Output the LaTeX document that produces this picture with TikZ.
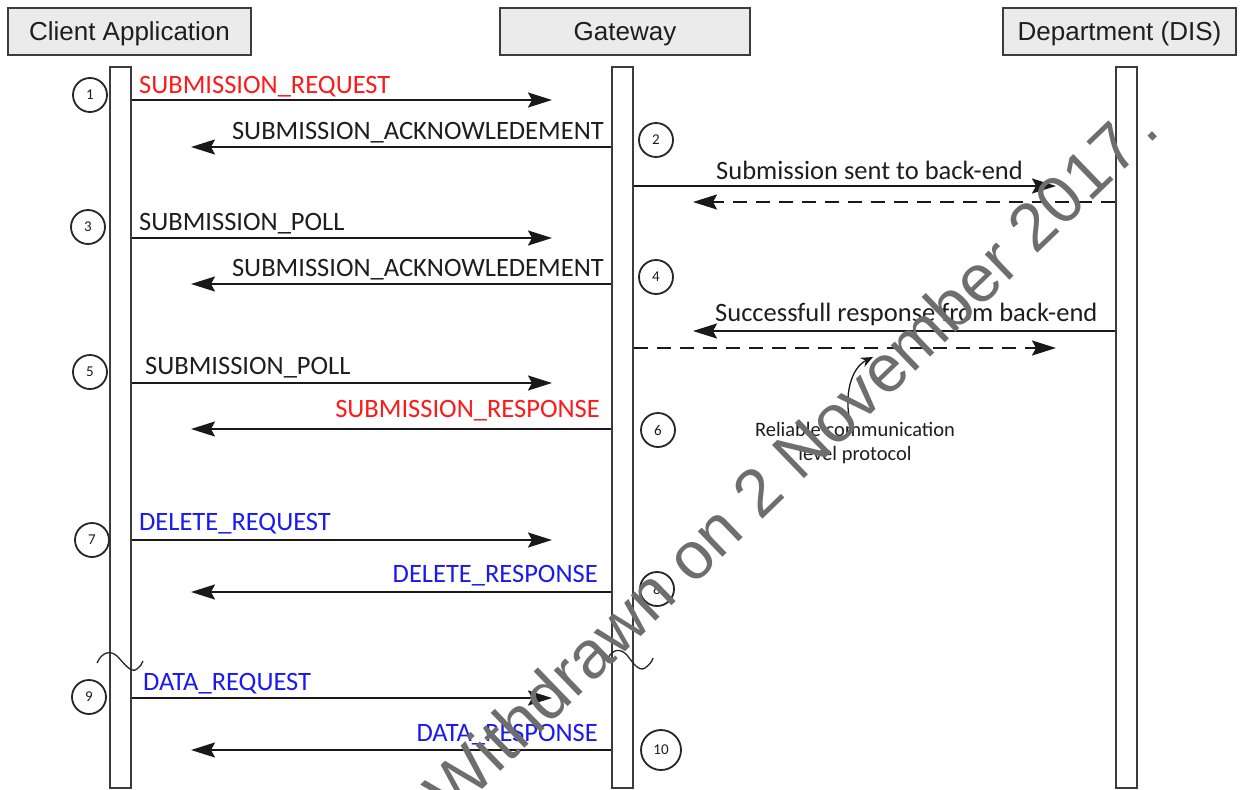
\documentclass[tikz,border=0pt]{standalone}
\usepackage{fontspec}
\setmainfont{Carlito}
\newfontfamily\arial{Liberation Sans}
\usetikzlibrary{arrows.meta}
\definecolor{lbl}{HTML}{1E1E1E}
\definecolor{myred}{HTML}{FF1A1A}
\definecolor{myblue}{HTML}{1A1AF0}
\definecolor{wm}{HTML}{6E6E6E}
\definecolor{edge}{HTML}{3C3C3C}
\definecolor{hdrfill}{HTML}{EBEBEB}
\begin{document}
\begin{tikzpicture}[x=1pt,y=-1pt,
  hdr/.style={draw=edge, line width=2.5pt, fill=hdrfill, minimum width=#1, minimum height=47pt, inner sep=0pt, text height=19pt, text depth=2pt, font=\arial\fontsize{26}{30}\selectfont, text=lbl},
  life/.style={draw=edge, line width=2pt, fill=white, minimum width=21pt, minimum height=721pt, inner sep=0pt},
  msg/.style={draw=black!90, line width=2pt, -{Stealth[length=24pt,width=15pt,inset=4pt]}, shorten >=59pt},
  dsh/.style={msg, dash pattern=on 14pt off 9pt},
  lab/.style={font=\fontsize{26.5}{30}\selectfont, text=lbl, inner sep=0pt},
  num/.style={draw=black!85, line width=1.8pt, circle, minimum size=34pt, inner sep=0pt, font=\fontsize{15}{17}\selectfont, text=lbl},
  wavy/.style={draw=black!85, line width=1.3pt},
]
\useasboundingbox (0,0) rectangle (1240,790);
\clip (0,0) rectangle (1240,790);
\fill[white] (0,0) rectangle (1240,790);

% headers
\node[hdr=243pt] (hc) at (129.5,31.5) {Client Application};
\node[hdr=250pt] (hg) at (625,31.5) {Gateway};
\node[hdr=233pt] (hd) at (1119.5,31.5) {Department (DIS)};

% lifelines
\node[life] (cl) at (120.5,427.5) {};
\node[life] (gw) at (622.5,427.5) {};
\node[life] (ds) at (1126.5,427.5) {};

% messages
\draw[msg] (cl.east |- 0,100) -- (gw.west |- 0,100);
\node[lab, text=myred, anchor=base west] (l1) at (139,93) {SUBMISSION\_REQUEST};
\draw[msg] (gw.west |- 0,147) -- (cl.east |- 0,147);
\node[lab, anchor=base east] (l2) at (604,139) {SUBMISSION\_ACKNOWLEDEMENT};

\draw[msg] (gw.east |- 0,186) -- (ds.west |- 0,186);
\node[lab, anchor=base west] (l2b) at (716,179) {Submission sent to back-end};
\draw[dsh] (ds.west |- 0,202) -- (gw.east |- 0,202);

\draw[msg] (cl.east |- 0,238) -- (gw.west |- 0,238);
\node[lab, anchor=base west] (l3) at (139,230) {SUBMISSION\_POLL};
\draw[msg] (gw.west |- 0,284) -- (cl.east |- 0,284);
\node[lab, anchor=base east] (l4) at (604,276) {SUBMISSION\_ACKNOWLEDEMENT};

\draw[msg] (ds.west |- 0,331) -- (gw.east |- 0,331);
\node[lab, anchor=base west] (l4b) at (715,321) {Successfull response from back-end};
\draw[dsh] (gw.east |- 0,348) -- (ds.west |- 0,348);

\draw[msg] (cl.east |- 0,383) -- (gw.west |- 0,383);
\node[lab, anchor=base west] (l5) at (145,374) {SUBMISSION\_POLL};
\draw[msg] (gw.west |- 0,429) -- (cl.east |- 0,429);
\node[lab, text=myred, anchor=base east] (l6) at (600,417) {SUBMISSION\_RESPONSE};

\draw[msg] (cl.east |- 0,540) -- (gw.west |- 0,540);
\node[lab, text=myblue, anchor=base west] (l7) at (139,530) {DELETE\_REQUEST};
\draw[msg] (gw.west |- 0,592) -- (cl.east |- 0,592);
\node[lab, text=myblue, anchor=base east] (l8) at (598,582) {DELETE\_RESPONSE};

\draw[msg] (cl.east |- 0,698) -- (gw.west |- 0,698);
\node[lab, text=myblue, anchor=base west] (l9) at (143,690) {DATA\_REQUEST};
\draw[msg] (gw.west |- 0,750) -- (cl.east |- 0,750);
\node[lab, text=myblue, anchor=base east] (l10) at (598,741) {DATA\_RESPONSE};

% reliable communication note
\node[font=\fontsize{20.5}{24}\selectfont, text=lbl, inner sep=0pt, anchor=base] (rc1) at (855,436) {Reliable communication};
\node[font=\fontsize{20.5}{24}\selectfont, text=lbl, inner sep=0pt, anchor=base] (rc2) at (855,460) {level protocol};
\coordinate (ct) at (873,357);
\draw[line width=1.3pt, black!90, -{Stealth[length=12pt,width=10pt]}] (rc1.north -| 850,0) .. controls (844,395) and (851,368) .. (ct);

% step numbers
\node[num] (n1) at (90,95) {1};
\node[num] (n2) at (656,140) {2};
\node[num] (n3) at (88,227) {3};
\node[num] (n4) at (656,277) {4};
\node[num] (n5) at (90,372) {5};
\node[num] (n6) at (658,430) {6};
\node[num] (n7) at (92,540) {7};
\node[num] (n8) at (657,589) {8};
\node[num] (n9) at (89,697) {9};
\node[num, minimum size=40pt] (n10) at (661,750) {10};

% break marks
\draw[wavy] (97,663) .. controls (102,652) and (110,650) .. (117,656) .. controls (124,663) and (131,674) .. (137,669) .. controls (140,667) and (142,664) .. (143,661);
\draw[wavy] (608,658) .. controls (613,649) and (620,648) .. (627,655) .. controls (633,663) and (639,672) .. (645,668) .. controls (649,665) and (652,662) .. (653,658);

% watermark
\node[font=\arial\fontsize{67}{76}\selectfont, text=wm, rotate=44, anchor=base west, inner sep=0pt] (wmk) at (452,819) {Withdrawn on 2 November 2017\hspace{0.12em}.};
\end{tikzpicture}
\end{document}
